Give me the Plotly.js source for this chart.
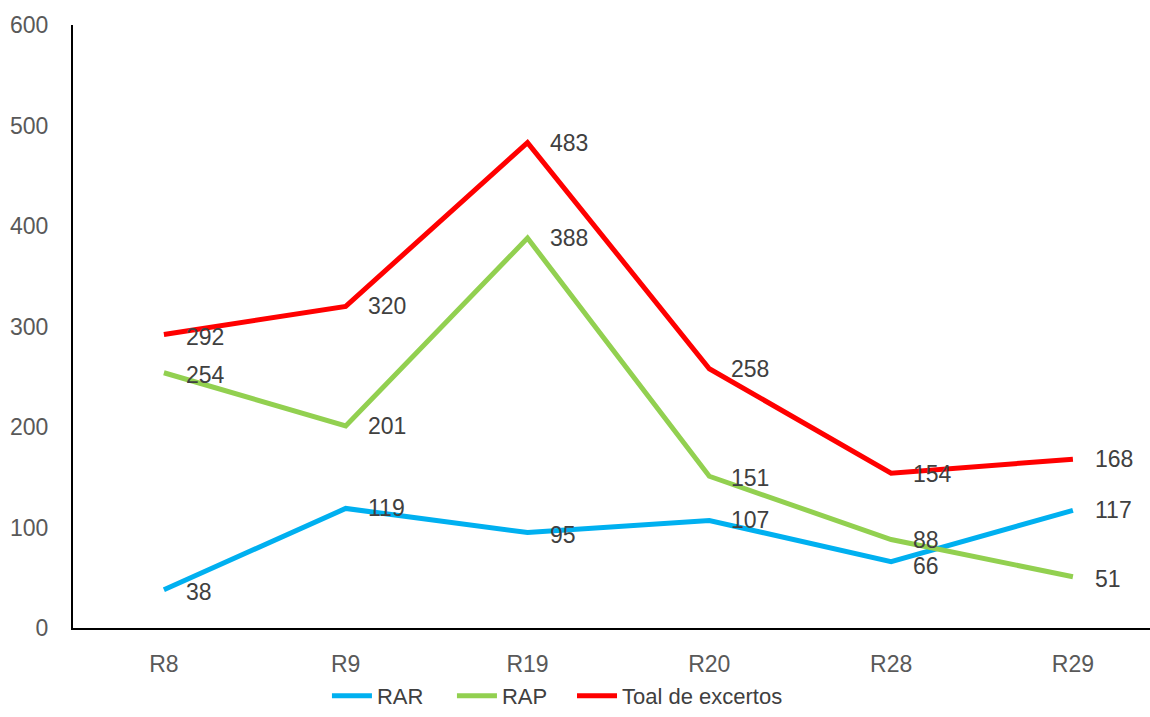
<!DOCTYPE html>
<html>
<head>
<meta charset="utf-8">
<script src="https://cdn.plot.ly/plotly-3.0.1.min.js"></script>
<style>html,body{margin:0;padding:0;background:#fff;}#chart{width:1150px;height:717px;}</style>
</head>
<body>
<div id="chart"></div>
<script>
const categories = ["R8", "R9", "R19", "R20", "R28", "R29"];
const rarValues = [38, 119, 95, 107, 66, 117];
const rapValues = [254, 201, 388, 151, 88, 51];
const totalValues = [292, 320, 483, 258, 154, 168];
const seriesNames = ["RAR", "RAP", "Toal de excertos"];
const yTicks = [0, 100, 200, 300, 400, 500, 600];

const colors = ["#00B0F0", "#92D050", "#FF0000"];
const allSeries = [rarValues, rapValues, totalValues];
const legendIds = ["legend", "legend2", "legend3"];
const legendX = [0.2843, 0.393, 0.4974];
const labelYShift = [[-2, 0, -2, 0, -4, 0], [-2, 0, 0, -2, 0, -2], [-2, 0, 0, 0, -1, 0]];

const traces = allSeries.map((vals, i) => ({
  x: categories, y: vals, type: "scatter", mode: "lines", name: seriesNames[i],
  legend: legendIds[i],
  line: {color: colors[i], width: 5}, hoverinfo: "skip"
}));

const annotations = [];
allSeries.forEach((vals, i) => {
  vals.forEach((v, j) => {
    annotations.push({
      x: categories[j], y: v, xref: "x", yref: "y", text: String(v), showarrow: false,
      xanchor: "left", yanchor: "middle", xshift: 20, yshift: labelYShift[i][j],
      font: {family: "Liberation Sans, Arial, sans-serif", size: 23, color: "#404040"}
    });
  });
});

const layout = {
  width: 1150, height: 717,
  margin: {l: 73, r: 0, t: 25, b: 89},
  paper_bgcolor: "#fff", plot_bgcolor: "#fff",
  showlegend: true,
  xaxis: {type: "category", range: [-0.5, 5.424], showgrid: false, zeroline: false,
    showline: true, linecolor: "#000", linewidth: 2, ticks: "", ticklabelstandoff: 14,
    tickfont: {family: "Liberation Sans, Arial, sans-serif", size: 23, color: "#595959"}},
  yaxis: {range: [0, 600], tickvals: yTicks, showgrid: false, zeroline: false,
    showline: true, linecolor: "#000", linewidth: 2, ticks: "", ticklabelstandoff: 18,
    tickfont: {family: "Liberation Sans, Arial, sans-serif", size: 23, color: "#595959"}},
  annotations: annotations
};
legendIds.forEach((id, i) => {
  layout[id] = {orientation: "h", xref: "container", yref: "container", x: legendX[i], xanchor: "left",
    y: 0, yanchor: "bottom", itemwidth: 40,
    font: {family: "Liberation Sans, Arial, sans-serif", size: 22, color: "#404040"}};
});

Plotly.newPlot("chart", traces, layout, {displayModeBar: false, staticPlot: true});
</script>
</body>
</html>
